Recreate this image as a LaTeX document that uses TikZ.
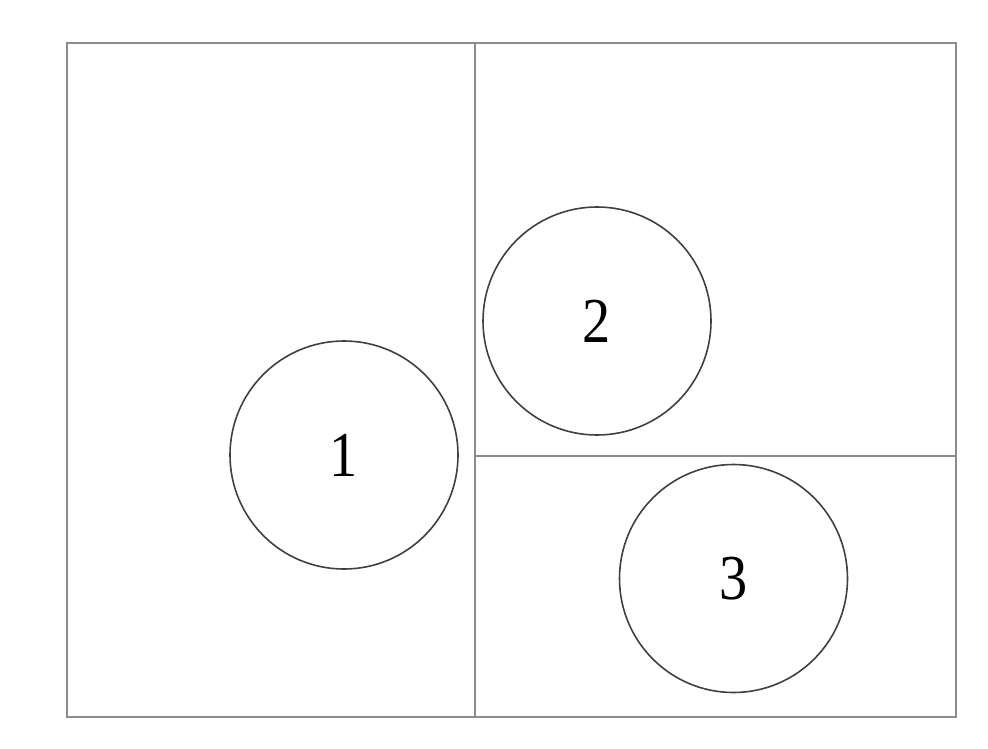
\documentclass[tikz,border=0pt]{standalone}
\usepackage{fontspec}
\setmainfont{Liberation Serif}
\begin{document}
\begin{tikzpicture}[x=0.75pt,y=-0.75pt,
  frameline/.style={draw=black!45, line width=1.1pt},
  ball/.style={circle, draw=black!75, line width=1.2pt, minimum size=171pt, inner sep=0pt,
    font=\fontsize{48}{48}\selectfont}]
\useasboundingbox (0,0) rectangle (988,749);
\coordinate (tl) at (67,43);
\coordinate (br) at (956,717);
\coordinate (vt) at (475,43);
\coordinate (vb) at (475,717);
\coordinate (hl) at (475,456);
\coordinate (hr) at (956,456);
\draw[frameline] (tl) rectangle (br);
\draw[frameline] (vt) -- (vb);
\draw[frameline] (hl) -- (hr);
\node[ball] (c1) at (344,455) {\scalebox{0.88}[1]{1}};
\node[ball] (c2) at (597,321) {\scalebox{0.88}[1]{2}};
\node[ball] (c3) at (733.5,578.5) {\scalebox{0.88}[1]{3}};
\end{tikzpicture}
\end{document}
